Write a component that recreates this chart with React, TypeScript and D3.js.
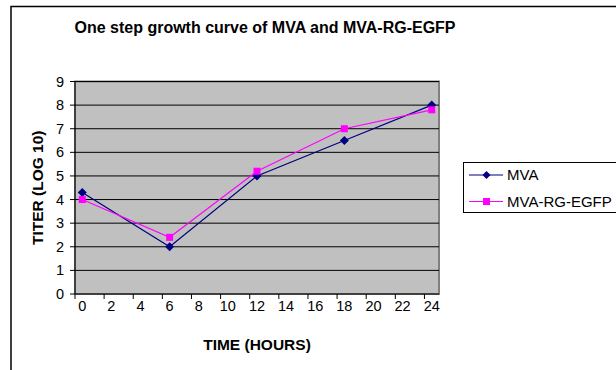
import React from "react";
import * as d3 from "d3";

const hours = [0, 6, 12, 18, 24];
const mva = [4.3, 2.0, 5.0, 6.5, 8.0];
const mvaRg = [4.0, 2.4, 5.2, 7.0, 7.8];
const xTickLabels = [0, 2, 4, 6, 8, 10, 12, 14, 16, 18, 20, 22, 24];
const yTicks = [0, 1, 2, 3, 4, 5, 6, 7, 8, 9];
const seriesNames = ["MVA", "MVA-RG-EGFP"];

const W = 616, H = 370;
const plot = { left: 75, right: 439, top: 81.5, bottom: 294 };

export default function App() {
  const x = d3.scaleLinear().domain([-0.5, 24.5]).range([plot.left, plot.right]);
  const y = d3.scaleLinear().domain([0, 9]).range([plot.bottom, plot.top]);
  const line = d3.line<number>().x((_, i) => x(hours[i])).y((v) => y(v));
  const tickPos = xTickLabels.map((h) => h - 0.5);
  const font = "Arial, 'Liberation Sans', sans-serif";
  const diamond = (cx: number, cy: number, r: number) =>
    `M${cx},${cy - r}L${cx + r},${cy}L${cx},${cy + r}L${cx - r},${cy}Z`;

  return (
    <svg width={W} height={H} style={{ position: "absolute", left: 0, top: 0 }} fontFamily={font}>
      <rect x={0} y={0} width={W} height={H} fill="#fff" />
      <path d={`M11,${H + 5}V6.5H${W + 5}`} fill="none" stroke="#000" strokeWidth={1.5} />
      <text x={265} y={27} dy="0.35em" textAnchor="middle" fontWeight="bold" fontSize={16}>
        One step growth curve of MVA and MVA-RG-EGFP
      </text>
      <rect x={plot.left} y={plot.top} width={plot.right - plot.left} height={plot.bottom - plot.top}
        fill="#C0C0C0" stroke="#808080" strokeWidth={2} />
      {yTicks.slice(1).map((t) => (
        <line key={t} x1={plot.left} x2={plot.right} y1={y(t)} y2={y(t)} stroke="#000" strokeWidth={1} />
      ))}
      <line x1={plot.left} x2={plot.left} y1={plot.top} y2={plot.bottom} stroke="#000" />
      <line x1={plot.left} x2={plot.right} y1={plot.bottom} y2={plot.bottom} stroke="#000" />
      {yTicks.map((t) => (
        <g key={t}>
          <line x1={plot.left - 5} x2={plot.left} y1={y(t)} y2={y(t)} stroke="#000" />
          <text x={plot.left - 11} y={y(t)} dy="0.35em" textAnchor="end" fontSize={14.5}>{t}</text>
        </g>
      ))}
      {tickPos.map((t) => (
        <line key={t} x1={x(t)} x2={x(t)} y1={plot.bottom} y2={plot.bottom + 5} stroke="#000" />
      ))}
      {xTickLabels.map((t) => (
        <text key={t} x={x(t)} y={306} dy="0.35em" textAnchor="middle" fontSize={14.5}>{t}</text>
      ))}
      <text x={257} y={345} dy="0.35em" textAnchor="middle" fontWeight="bold" fontSize={15.5}>TIME (HOURS)</text>
      <text transform={`translate(38,${(plot.top + plot.bottom) / 2}) rotate(-90)`} dy="0.35em"
        textAnchor="middle" fontWeight="bold" fontSize={15.5}>TITER (LOG 10)</text>

      <path d={line(mva) || ""} fill="none" stroke="#000080" strokeWidth={1.2} />
      <path d={line(mvaRg) || ""} fill="none" stroke="#FF00FF" strokeWidth={1.2} />
      {mva.map((v, i) => (
        <path key={i} d={diamond(x(hours[i]), y(v), 4.5)} fill="#000080" />
      ))}
      {mvaRg.map((v, i) => (
        <rect key={i} x={x(hours[i]) - 3.5} y={y(v) - 3.5} width={7} height={7} fill="#FF00FF" />
      ))}

      <rect x={463.5} y={162.5} width={170} height={50} fill="#fff" stroke="#000" strokeWidth={1} />
      <line x1={469} x2={503} y1={175} y2={175} stroke="#000080" strokeWidth={1.2} />
      <path d={diamond(486.5, 175, 4)} fill="#000080" />
      <text x={507} y={175} dy="0.35em" fontSize={15}>{seriesNames[0]}</text>
      <line x1={469} x2={503} y1={201.5} y2={201.5} stroke="#FF00FF" strokeWidth={1.2} />
      <rect x={483} y={198} width={7} height={7} fill="#FF00FF" />
      <text x={507} y={201.5} dy="0.35em" fontSize={15}>{seriesNames[1]}</text>
    </svg>
  );
}
